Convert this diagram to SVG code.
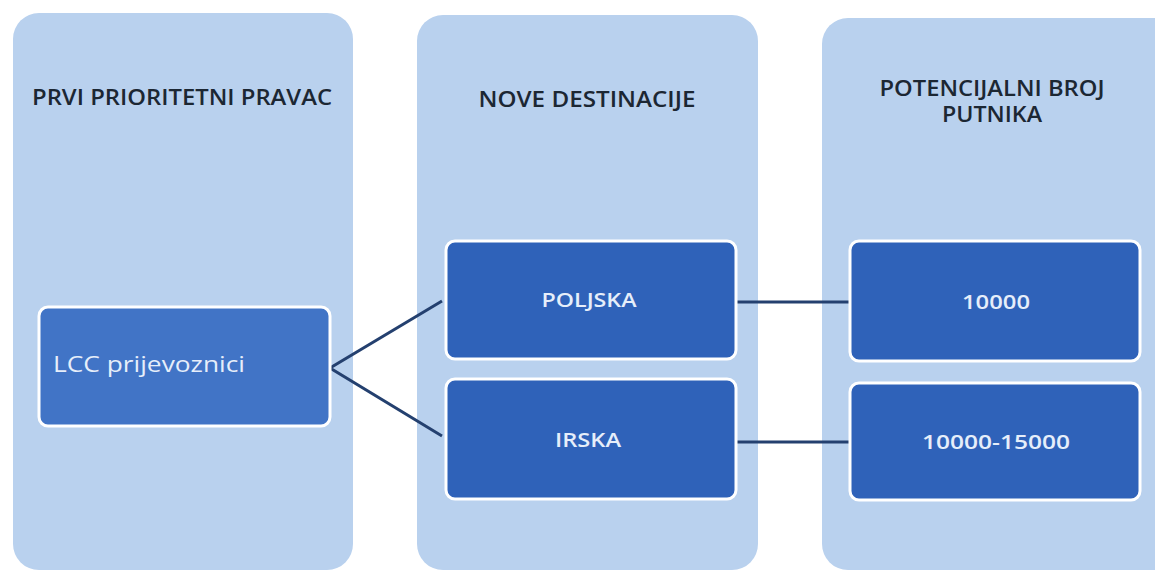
<svg xmlns="http://www.w3.org/2000/svg" width="1155" height="571" viewBox="0 0 1155 571">
<style>
.panel{fill:#b9d1ee}
.box{fill:#2f62b9;stroke:#ffffff;stroke-width:3}
.lcc{fill:#4174c6;stroke:#ffffff;stroke-width:3}
.title{font-family:"Open Sans","Liberation Sans",sans-serif;font-size:21px;font-weight:600;fill:#1c2733;text-anchor:middle}
.lbl{font-family:"Open Sans","Liberation Sans",sans-serif;font-size:20px;font-weight:600;fill:#e6eefa;text-anchor:middle}
.conn{stroke:#24406f;stroke-width:3;fill:none}
</style>
<rect width="1155" height="571" fill="#ffffff"/>
<g id="panel1"><rect class="panel" x="13" y="13" width="340" height="557" rx="26"/>
<text class="title" x="182" y="105" textLength="300" lengthAdjust="spacingAndGlyphs">PRVI PRIORITETNI PRAVAC</text></g>
<g id="panel2"><rect class="panel" x="417" y="15" width="341" height="555" rx="26"/>
<text class="title" x="587" y="107" textLength="217" lengthAdjust="spacingAndGlyphs">NOVE DESTINACIJE</text></g>
<g id="panel3"><rect class="panel" x="822" y="18" width="360" height="552" rx="26"/>
<text class="title" x="992" y="96" textLength="225" lengthAdjust="spacingAndGlyphs">POTENCIJALNI BROJ</text>
<text class="title" x="992" y="122" textLength="100" lengthAdjust="spacingAndGlyphs">PUTNIKA</text></g>
<g id="connectors">
<polyline class="conn" points="442,301 330,368 442,436"/>
<line class="conn" x1="736" y1="302" x2="850" y2="302"/>
<line class="conn" x1="736" y1="442" x2="850" y2="442"/>
</g>
<g id="lcc"><rect class="lcc" x="39" y="307" width="291" height="119" rx="9"/>
<text x="53" y="372" font-family="'Open Sans','Liberation Sans',sans-serif" font-size="21" fill="#e6eefa" textLength="192" lengthAdjust="spacingAndGlyphs">LCC prijevoznici</text></g>
<g id="poljska"><rect class="box" x="446" y="241" width="290" height="118" rx="9"/>
<text class="lbl" x="589" y="307" textLength="95" lengthAdjust="spacingAndGlyphs">POLJSKA</text></g>
<g id="irska"><rect class="box" x="446" y="379" width="290" height="120" rx="9"/>
<text class="lbl" x="588" y="447" textLength="66" lengthAdjust="spacingAndGlyphs">IRSKA</text></g>
<g id="n10000"><rect class="box" x="850" y="241" width="290" height="120" rx="9"/>
<text class="lbl" x="996" y="309" textLength="68" lengthAdjust="spacingAndGlyphs">10000</text></g>
<g id="n10000-15000"><rect class="box" x="850" y="383" width="290" height="117" rx="9"/>
<text class="lbl" x="996" y="449" textLength="148" lengthAdjust="spacingAndGlyphs">10000-15000</text></g>
</svg>
